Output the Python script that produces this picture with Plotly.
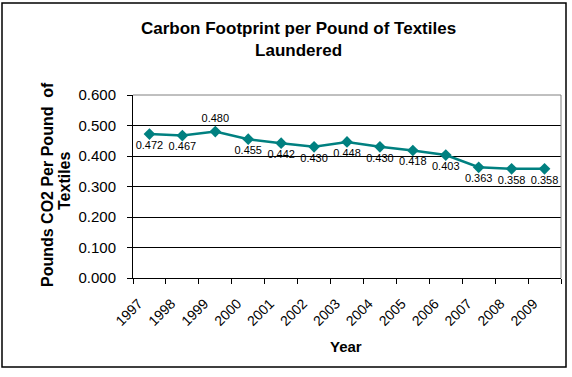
import plotly.graph_objects as go

years = ["1997", "1998", "1999", "2000", "2001", "2002", "2003", "2004", "2005", "2006", "2007", "2008", "2009"]
values = [0.472, 0.467, 0.480, 0.455, 0.442, 0.430, 0.446, 0.430, 0.418, 0.403, 0.363, 0.358, 0.358]
labels = ["0.472", "0.467", "0.480", "0.455", "0.442", "0.430", "0.448", "0.430", "0.418", "0.403", "0.363", "0.358", "0.358"]
y_ticks = [0.0, 0.1, 0.2, 0.3, 0.4, 0.5, 0.6]
y_tick_text = ["0.000", "0.100", "0.200", "0.300", "0.400", "0.500", "0.600"]

positions = ["top center" if y == "1999" else "bottom center" for y in years]
x_tick_text = [y + "\u00a0" * 4 for y in years]

FONT = "Liberation Sans, Arial, sans-serif"
W, H = 572, 377
L, R, T, B = 133, 11, 95, 99
pw, ph = W - L - R, H - T - B

def px(x):
    return (x - L) / pw

def py(y):
    return (H - B - y) / ph

fig = go.Figure()
fig.add_trace(go.Scatter(
    x=years, y=values, mode="lines+markers+text",
    text=labels, textposition=positions,
    textfont=dict(family=FONT, size=11, color="#000000"),
    line=dict(color="#008080", width=2.5),
    marker=dict(symbol="diamond", size=9, color="#008080"),
    cliponaxis=False, showlegend=False, hoverinfo="skip",
))

fig.update_layout(
    width=W, height=H,
    margin=dict(l=L, r=R, t=T, b=B),
    paper_bgcolor="white", plot_bgcolor="white",
    font=dict(family=FONT, color="#000000"),
    xaxis=dict(
        type="category", tickson="boundaries", ticks="outside", ticklen=5,
        tickvals=years, ticktext=x_tick_text,
        tickcolor="#000", tickangle=-45, tickfont=dict(size=14),
        ticklabelstandoff=0,
        showgrid=False, showline=True, linecolor="#000", linewidth=1,
        range=[-0.5, 12.5], mirror=False, zeroline=False, automargin=False,
    ),
    yaxis=dict(
        range=[0, 0.6], tickvals=y_ticks, ticktext=y_tick_text,
        ticks="outside", ticklen=5, tickcolor="#000",
        tickfont=dict(size=15), ticklabelstandoff=8,
        showgrid=True, gridcolor="#000", gridwidth=1,
        showline=True, linecolor="#000", linewidth=1, zeroline=False,
        automargin=False,
    ),
    shapes=[
        dict(type="line", xref="paper", yref="paper", x0=0, x1=1, y0=1, y1=1,
             line=dict(color="#808080", width=1)),
        dict(type="line", xref="paper", yref="paper", x0=1, x1=1, y0=0, y1=1,
             line=dict(color="#808080", width=1)),
        dict(type="rect", xref="paper", yref="paper",
             x0=px(2), x1=px(566), y0=py(367), y1=py(3),
             line=dict(color="#000", width=1.5)),
    ],
    annotations=[
        dict(text="<b>Carbon Footprint per Pound of Textiles<br>Laundered</b>",
             xref="paper", yref="paper", x=px(298), y=py(39),
             xanchor="center", yanchor="middle", showarrow=False,
             font=dict(size=17), align="center"),
        dict(text="<b>Pounds CO2 Per Pound  of</b>",
             xref="paper", yref="paper", x=px(47), y=py(185),
             xanchor="center", yanchor="middle", showarrow=False,
             font=dict(size=16), textangle=-90),
        dict(text="<b>Textiles</b>",
             xref="paper", yref="paper", x=px(64), y=py(181),
             xanchor="center", yanchor="middle", showarrow=False,
             font=dict(size=16), textangle=-90),
        dict(text="<b>Year</b>",
             xref="paper", yref="paper", x=px(346), y=py(346),
             xanchor="center", yanchor="middle", showarrow=False,
             font=dict(size=15)),
    ],
)

fig.write_html("out.html", config={"displayModeBar": False},
               post_script="document.body.style.margin='0';")
